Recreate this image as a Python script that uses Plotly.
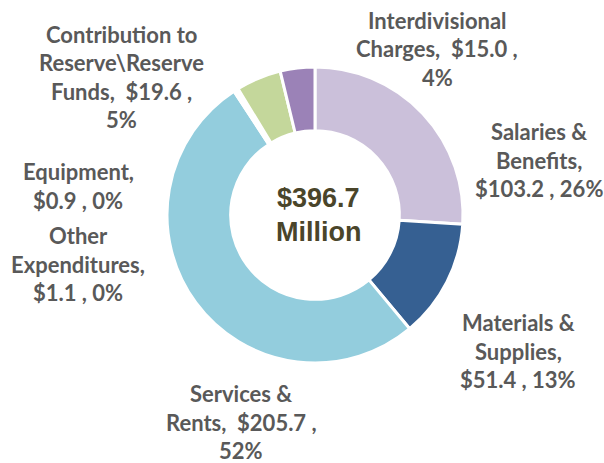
import plotly.graph_objects as go

# ---- data ----
categories = ["Salaries & Benefits", "Materials & Supplies", "Services & Rents",
              "Other Expenditures", "Equipment",
              "Contribution to Reserve\\Reserve Funds", "Interdivisional Charges"]
values = [103.2, 51.4, 205.7, 1.1, 0.9, 19.6, 15.0]
percents = [26, 13, 52, 0, 0, 5, 4]
total_label = ["$396.7", "Million"]

# label line breaks (layout of the text only)
label_lines = [
    ["Salaries &", "Benefits,", "${v} , {p}%"],
    ["Materials &", "Supplies,", "${v} , {p}%"],
    ["Services &", "Rents,  ${v} ,", "{p}%"],
    ["Other", "Expenditures,", "${v} , {p}%"],
    ["Equipment,", "${v} , {p}%"],
    ["Contribution to", "Reserve\\Reserve", "Funds,  ${v} ,", "{p}%"],
    ["Interdivisional", "Charges,  ${v} ,", "{p}%"],
]
# label block centres in page pixels (x, y of block middle)
label_pos = [(539, 160), (518, 351), (241, 422), (78, 264), (78, 186), (121, 77), (437, 49)]

colors = ["#CBC0DA", "#366092", "#93CDDD", "#B7B7B7", "#F79646", "#C4D79B", "#9B82B7"]

W, H = 604, 463
cx, cy, r = 315, 215, 148

fig = go.Figure(go.Pie(
    labels=categories, values=values, sort=False, direction="clockwise", rotation=0,
    hole=0.57, marker=dict(colors=colors, line=dict(color="white", width=3)),
    textinfo="none", hoverinfo="label+value+percent", showlegend=False,
    domain=dict(x=[(cx - r) / W, (cx + r) / W], y=[(H - cy - r) / H, (H - cy + r) / H]),
))

LS = 28.5
ann = []
for lines, (px, py), v, p in zip(label_lines, label_pos, values, percents):
    n = len(lines)
    for i, ln in enumerate(lines):
        yy = py + (i - (n - 1) / 2) * LS
        ann.append(dict(x=px / W, y=1 - yy / H, xref="paper", yref="paper",
                        text=ln.replace("{v}", f"{v:.1f}").replace("{p}", str(p)),
                        showarrow=False, xanchor="center", yanchor="middle",
                        font=dict(family="Lato, 'Open Sans', sans-serif", size=22,
                                  color="#595959", weight="bold")))
for i, t in enumerate(total_label):
    yy = 198 + i * 34
    ann.append(dict(x=318 / W, y=1 - yy / H, xref="paper", yref="paper", text=t,
                    showarrow=False, xanchor="center", yanchor="middle",
                    font=dict(family="Liberation Sans, Arial, sans-serif", size=27,
                              color="#4A452A", weight="bold")))

fig.update_layout(width=W, height=H, margin=dict(l=0, r=0, t=0, b=0),
                  paper_bgcolor="white", plot_bgcolor="white", annotations=ann)
fig.write_html("out.html", config={"displayModeBar": False},
               post_script="document.body.style.margin='0';document.body.style.overflow='hidden';")
